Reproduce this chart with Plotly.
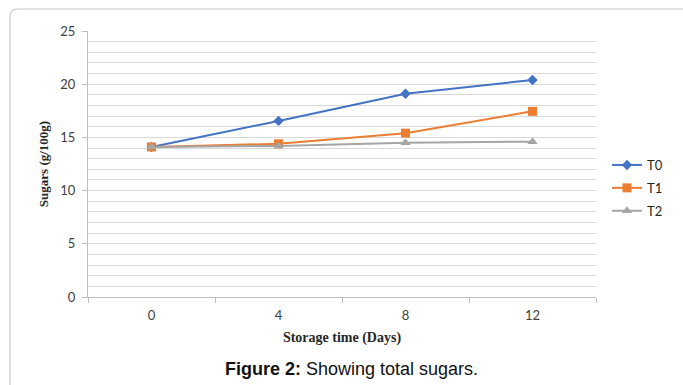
import plotly.graph_objects as go

days = ["0", "4", "8", "12"]
t0 = [14.1, 16.55, 19.1, 20.4]
t1 = [14.1, 14.4, 15.4, 17.45]
t2 = [14.1, 14.2, 14.5, 14.6]

W, H = 683, 385
L, R, T, B = 88, 87, 31, 88
PW, PH = W - L - R, H - T - B


def px(x):
    return (x - L) / PW


def py(y):
    return (H - B - y) / PH


fig = go.Figure()
fig.add_trace(go.Scatter(x=days, y=t0, name="T0", mode="lines+markers",
                         line=dict(color="#4472C4", width=2),
                         marker=dict(symbol="diamond", size=8, color="#4472C4"),
                         legendgroup="a"))
fig.add_trace(go.Scatter(x=days, y=t1, name="T1", mode="lines+markers",
                         line=dict(color="#ED7D31", width=2),
                         marker=dict(symbol="square", size=9, color="#ED7D31"),
                         legendgroup="b"))
fig.add_trace(go.Scatter(x=days, y=t2, name="T2", mode="lines+markers",
                         line=dict(color="#A5A5A5", width=2),
                         marker=dict(symbol="triangle-up", size=9, color="#A5A5A5"),
                         legendgroup="c"))

tickfont = dict(family="Lato, Open Sans, sans-serif", size=13, color="#404040")
titlefont = dict(family="Liberation Serif, Times New Roman, serif", size=14, color="#262626")

fig.update_layout(
    width=W, height=H,
    margin=dict(l=L, r=R, t=T, b=B),
    paper_bgcolor="white", plot_bgcolor="white",
    showlegend=True,
    legend=dict(x=px(607), y=py(150), xanchor="left", yanchor="top",
                font=dict(family="Lato, Open Sans, sans-serif", size=13, color="#262626"),
                tracegroupgap=3, bgcolor="rgba(0,0,0,0)"),
    xaxis=dict(type="category", range=[-0.5, 3.5], showgrid=False,
               showline=True, linecolor="#bfbfbf", linewidth=1,
               ticks="outside", tickson="boundaries", ticklen=5, tickcolor="#bfbfbf",
               tickfont=tickfont, fixedrange=True, ticklabelstandoff=6,
               title=dict(text="<b>Storage time (Days)</b>", font=titlefont, standoff=10)),
    yaxis=dict(range=[0, 25], dtick=5, showgrid=True, gridcolor="#d9d9d9", gridwidth=1.3,
               minor=dict(dtick=1, showgrid=True, gridcolor="#d9d9d9", gridwidth=1.3),
               showline=True, linecolor="#bfbfbf", linewidth=1,
               ticks="outside", ticklen=5, tickcolor="#bfbfbf",
               tickfont=tickfont, zeroline=False, ticklabelstandoff=4,
               title=dict(text="<b>Sugars (g/100g)</b>",
                          font=dict(family="Liberation Serif, Times New Roman, serif", size=13, color="#262626"),
                          standoff=8)),
    annotations=[dict(text="<b>Figure 2:</b> Showing total sugars.",
                      x=px(351), y=py(369), xref="paper", yref="paper",
                      showarrow=False, xanchor="center", yanchor="middle",
                      font=dict(family="Liberation Sans, Arial, sans-serif", size=18, color="#111111"))],
    shapes=[dict(type="path", xref="paper", yref="paper",
                 path=(f"M {px(10)},{py(395)} L {px(10)},{py(17)} "
                       f"Q {px(10)},{py(9)} {px(18)},{py(9)} L {px(700)},{py(9)}"),
                 line=dict(color="#c8c8c8", width=1.2))],
)

fig.write_html("out.html")
